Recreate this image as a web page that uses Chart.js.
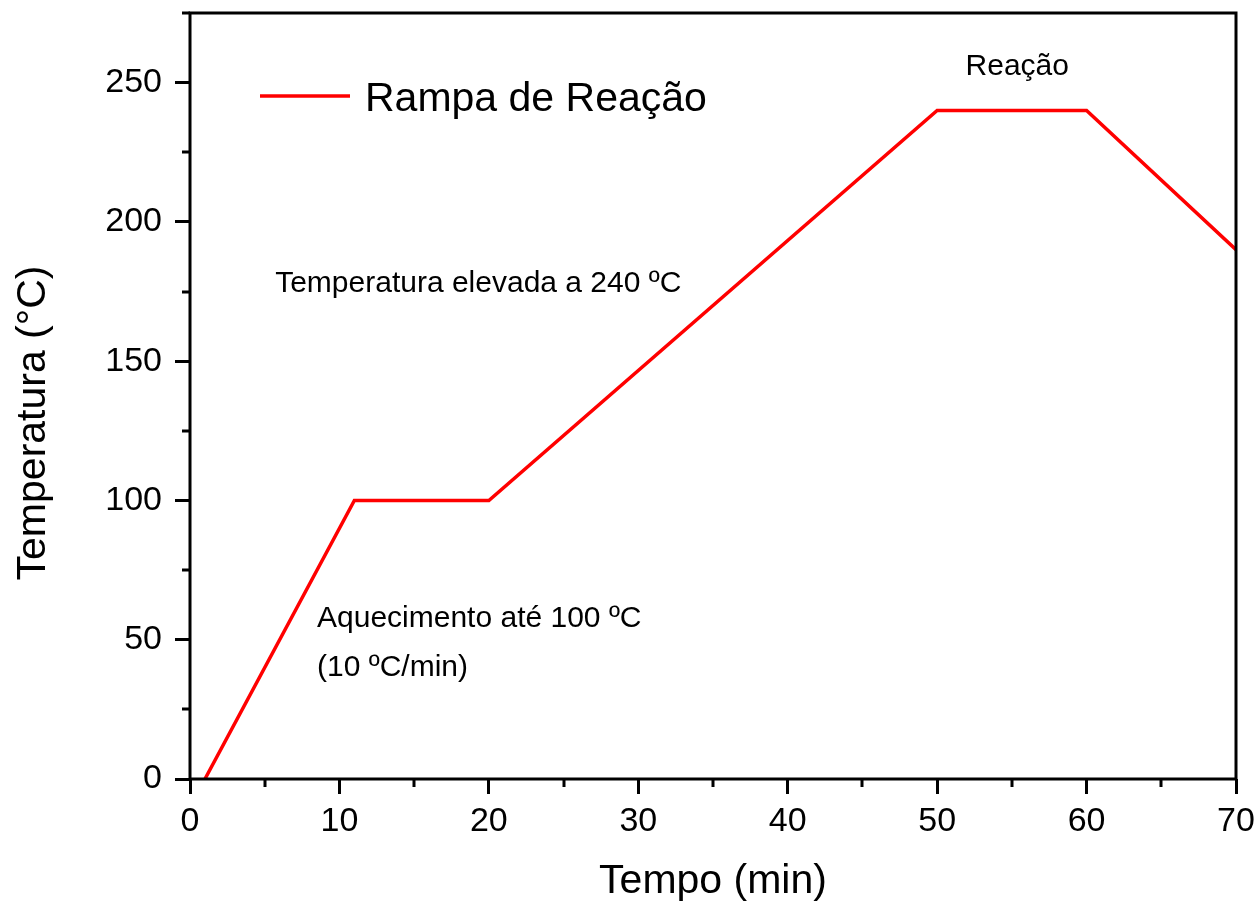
<!DOCTYPE html>
<html>
<head>
<meta charset="utf-8">
<script src="https://cdn.jsdelivr.net/npm/chart.js@4/dist/chart.umd.min.js"></script>
<style>
  html, body { margin: 0; padding: 0; background: #fff; }
  #wrap { width: 1258px; height: 905px; position: relative; }
</style>
</head>
<body>
<div id="wrap"><canvas id="c" width="1258" height="905"></canvas></div>
<script>
// ---- data ----
const timeMin = [1, 11, 20, 50, 60, 70];
const tempC   = [0, 100, 100, 240, 240, 190];
const seriesLabel = 'Rampa de Reação';
const xTitle = 'Tempo (min)';
const yTitle = 'Temperatura (°C)';
const xMajorTicks = [0, 10, 20, 30, 40, 50, 60, 70];
const yMajorTicks = [0, 50, 100, 150, 200, 250];
// annotations (anchored in data units: left edge, baseline)
const annoText = ['Reação', 'Temperatura elevada a 240 ºC', 'Aquecimento até 100 ºC', '(10 ºC/min)'];
const annoX = [51.9, 5.7, 8.5, 8.5];
const annoY = [252.9, 174.7, 54.5, 36.9];

const FONT = "'Liberation Sans', Arial, Helvetica, sans-serif";

const points = timeMin.map((t, i) => ({ x: t, y: tempC[i] }));

const decor = {
  id: 'decor',
  afterDraw(chart) {
    const ctx = chart.ctx;
    const a = chart.chartArea;
    const xs = chart.scales.x, ys = chart.scales.y;
    ctx.save();
    ctx.strokeStyle = '#000';
    ctx.lineWidth = 3;
    ctx.lineCap = 'butt';
    // minor ticks
    ctx.beginPath();
    xs.ticks.forEach(t => {
      if (!xMajorTicks.includes(t.value)) {
        const px = Math.round(xs.getPixelForValue(t.value));
        ctx.moveTo(px, a.bottom); ctx.lineTo(px, a.bottom + 8);
      }
    });
    ys.ticks.forEach(t => {
      if (!yMajorTicks.includes(t.value)) {
        const py = Math.round(ys.getPixelForValue(t.value));
        ctx.moveTo(a.left, py); ctx.lineTo(a.left - 8, py);
      }
    });
    ctx.stroke();
    // frame
    ctx.strokeRect(a.left, a.top, a.right - a.left, a.bottom - a.top);

    // annotations
    ctx.fillStyle = '#000';
    ctx.font = '30px ' + FONT;
    ctx.textAlign = 'left';
    ctx.textBaseline = 'alphabetic';
    annoText.forEach((txt, i) => {
      ctx.fillText(txt, xs.getPixelForValue(annoX[i]), ys.getPixelForValue(annoY[i]));
    });

    // legend (inside plot)
    const ds = chart.data.datasets[0];
    ctx.strokeStyle = ds.borderColor;
    ctx.lineWidth = 3.5;
    ctx.beginPath();
    ctx.moveTo(a.left + 70, 96); ctx.lineTo(a.left + 160, 96);
    ctx.stroke();
    ctx.fillStyle = '#000';
    ctx.font = '41px ' + FONT;
    ctx.fillText(ds.label, a.left + 175, 111);

    // axis titles
    ctx.font = '41px ' + FONT;
    ctx.textAlign = 'center';
    ctx.fillText(xTitle, (a.left + a.right) / 2, 893);
    ctx.save();
    ctx.translate(45, 423);
    ctx.rotate(-Math.PI / 2);
    ctx.fillText(yTitle, 0, 0);
    ctx.restore();
    ctx.restore();
  }
};

new Chart(document.getElementById('c'), {
  type: 'line',
  data: {
    datasets: [{
      label: seriesLabel,
      data: points,
      borderColor: '#ff0000',
      borderWidth: 3.5,
      pointRadius: 0,
      tension: 0,
      fill: false
    }]
  },
  options: {
    responsive: false,
    animation: false,
    devicePixelRatio: 1,
    layout: { padding: { top: 13, right: 22, left: 0, bottom: 0 } },
    plugins: { legend: { display: false }, tooltip: { enabled: false } },
    scales: {
      x: {
        type: 'linear',
        min: 0, max: 70,
        border: { display: false },
        grid: {
          drawOnChartArea: false,
          drawTicks: true,
          tickLength: 15,
          tickWidth: 3,
          tickColor: ctx => (ctx.tick && xMajorTicks.includes(ctx.tick.value)) ? '#000' : 'rgba(0,0,0,0)'
        },
        ticks: {
          stepSize: 5,
          autoSkip: false,
          maxRotation: 0,
          padding: 7,
          color: '#000',
          font: { family: FONT, size: 34 },
          callback: v => xMajorTicks.includes(v) ? String(v) : ''
        },
        afterFit: s => { s.height = 126; s.paddingLeft = 0; s.paddingRight = 0; }
      },
      y: {
        type: 'linear',
        min: 0, max: 275,
        border: { display: false },
        grid: {
          drawOnChartArea: false,
          drawTicks: true,
          tickLength: 15,
          tickWidth: 3,
          tickColor: ctx => (ctx.tick && yMajorTicks.includes(ctx.tick.value)) ? '#000' : 'rgba(0,0,0,0)'
        },
        ticks: {
          stepSize: 25,
          autoSkip: false,
          padding: 13,
          color: '#000',
          font: { family: FONT, size: 34 },
          callback: v => yMajorTicks.includes(v) ? String(v) : ''
        },
        afterFit: s => { s.width = 190; s.paddingTop = 0; s.paddingBottom = 0; }
      }
    }
  },
  plugins: [decor]
});
</script>
</body>
</html>
